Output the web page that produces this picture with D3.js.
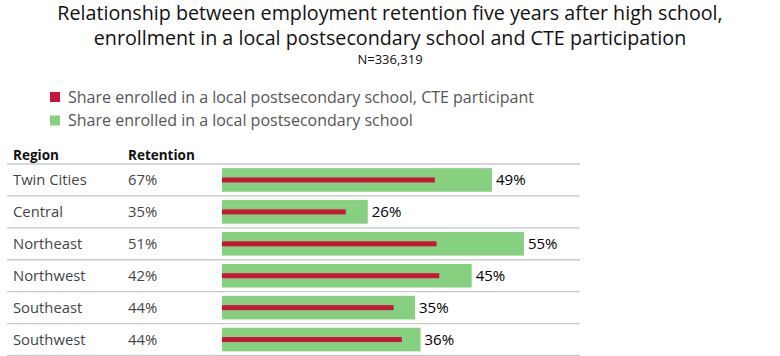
<!DOCTYPE html>
<html><head><meta charset="utf-8">
<script src="https://cdn.jsdelivr.net/npm/d3@7"></script>
<style>body{margin:0;background:#fff}svg{display:block}</style>
</head><body>
<svg id="c" width="780" height="356"></svg>
<script>
const regions = ["Twin Cities","Central","Northeast","Northwest","Southeast","Southwest"];
const retention = ["67%","35%","51%","42%","44%","44%"];
const enrolledShare = [49.1, 26.5, 54.9, 45.4, 35.1, 36.1];
const enrolledCTEShare = [38.7, 22.5, 39.0, 39.5, 31.2, 32.7];
const valueLabels = ["49%","26%","55%","45%","35%","36%"];
const titleLines = ["Relationship between employment retention five years after high school,","enrollment in a local postsecondary school and CTE participation"];
const subtitle = "N=336,319";
const legendItems = ["Share enrolled in a local postsecondary school, CTE participant","Share enrolled in a local postsecondary school"];
const colHeaders = ["Region","Retention"];

const FONT = "'Open Sans', 'Noto Sans', sans-serif";
const RED = "#c8163b", GREEN = "#86d17f";
const svg = d3.select("#c");

svg.selectAll("text.title").data(titleLines).join("text")
  .attr("x", 390).attr("y", (d,i)=>19.5+i*25.5).attr("text-anchor","middle")
  .attr("font-family",FONT).attr("font-size",19.7).attr("fill","#111").text(d=>d);
svg.append("text").attr("x",390).attr("y",63.5).attr("text-anchor","middle")
  .attr("font-family",FONT).attr("font-size",13).attr("fill","#111").text(subtitle);

const lg = svg.selectAll("g.lg").data(legendItems).join("g").attr("transform",(d,i)=>`translate(50,${92+i*23.5})`);
lg.append("rect").attr("width",10).attr("height",10).attr("fill",(d,i)=>i===0?RED:GREEN);
lg.append("text").attr("x",18).attr("y",10.5).attr("font-family",FONT).attr("font-size",16).attr("fill","#555").text(d=>d);

svg.selectAll("text.hdr").data(colHeaders).join("text")
  .attr("x",(d,i)=>i===0?13:128).attr("y",160).attr("font-family",FONT).attr("font-weight","bold")
  .attr("font-size",13.5).attr("fill","#111").text(d=>d);

const y = d3.scaleBand().domain(regions).range([164,355.5]).paddingInner(0.26).paddingOuter(0.13);
const x = d3.scaleLinear().domain([0,100]).range([222,772]);

const seps = [164, ...regions.map(r=>y(r)-y.step()*y.paddingOuter()+y.step())];
svg.selectAll("line.sep").data(seps).join("line")
  .attr("x1",7).attr("x2",580).attr("y1",d=>d).attr("y2",d=>d)
  .attr("stroke","#c9c9c9").attr("stroke-width",1.3);

const rows = svg.selectAll("g.row").data(regions).join("g");
rows.append("text").attr("x",13).attr("y",r=>y(r)+y.bandwidth()/2+5)
  .attr("font-family",FONT).attr("font-size",14.8).attr("fill","#444").text(r=>r);
rows.append("text").attr("x",128).attr("y",r=>y(r)+y.bandwidth()/2+5)
  .attr("font-family",FONT).attr("font-size",14.8).attr("fill","#444").text((r,i)=>retention[i]);
rows.append("rect").attr("x",x(0)).attr("y",r=>y(r)).attr("height",y.bandwidth())
  .attr("width",(r,i)=>x(enrolledShare[i])-x(0)).attr("fill",GREEN);
rows.append("rect").attr("x",x(0)).attr("y",r=>y(r)+y.bandwidth()/2-2.5).attr("height",5)
  .attr("width",(r,i)=>x(enrolledCTEShare[i])-x(0)).attr("fill",RED);
rows.append("text").attr("x",(r,i)=>x(enrolledShare[i])+4).attr("y",r=>y(r)+y.bandwidth()/2+5)
  .attr("font-family",FONT).attr("font-size",15).attr("font-weight",500).attr("fill","#000").text((r,i)=>valueLabels[i]);
</script></body></html>
